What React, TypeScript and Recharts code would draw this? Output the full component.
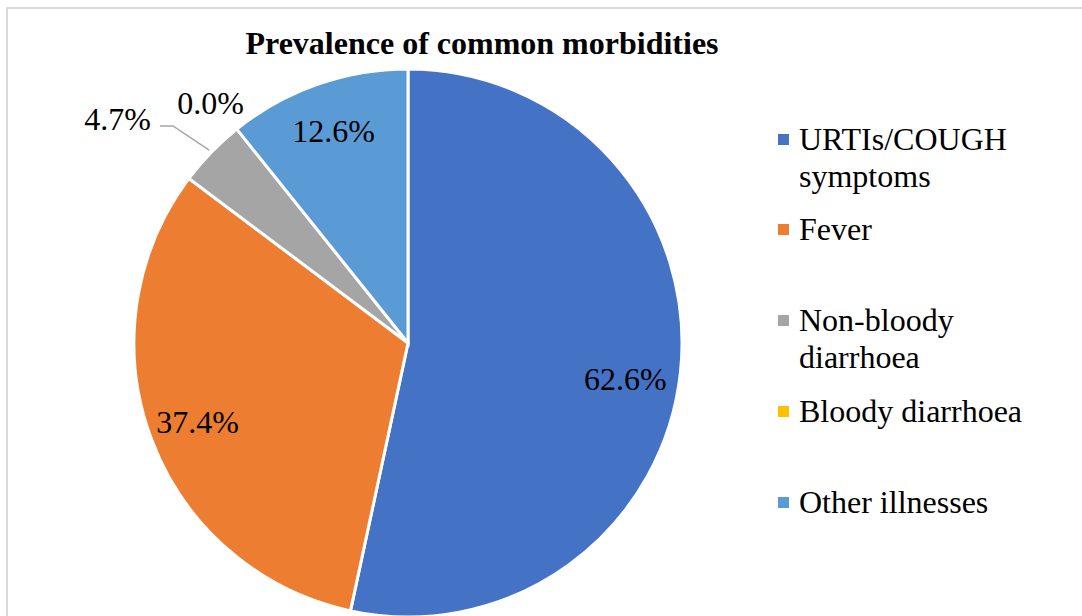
import React from 'react';
import { PieChart, Pie, Cell, Legend } from 'recharts';

const categories = ['URTIs/COUGH symptoms', 'Fever', 'Non-bloody diarrhoea', 'Bloody diarrhoea', 'Other illnesses'];
const values = [62.6, 37.4, 4.7, 0.0, 12.6];
const colors = ['#4472C4', '#ED7D31', '#A5A5A5', '#FFC000', '#5B9BD5'];
const title = 'Prevalence of common morbidities';

const data = categories.map((name, i) => ({ name, value: values[i] }));

const FONT = "'Liberation Serif', serif";
const RAD = Math.PI / 180;
const FS = 32;

const renderLabel = (props: any) => {
  const { cx, cy, midAngle, outerRadius, value, index } = props;
  const a = -midAngle * RAD;
  const cos = Math.cos(a);
  const sin = Math.sin(a);
  const txt = Number(value).toFixed(1) + '%';
  const common = { fontFamily: FONT, fontSize: FS, fill: '#000' };
  if (value === 0) {
    const r = outerRadius + 34;
    return (
      <text key={index} x={cx + r * cos - 5} y={cy + r * sin} textAnchor="middle" dominantBaseline="central" {...common}>
        {txt}
      </text>
    );
  }
  if (value < 10) {
    const dir = cos < 0 ? -1 : 1;
    const x1 = cx + (outerRadius + 3) * cos;
    const y1 = cy + (outerRadius + 3) * sin;
    const x2 = cx + (outerRadius + 45) * cos + dir * 6;
    const y2 = cy + (outerRadius + 45) * sin + 5;
    const x3 = x2 + dir * 13;
    return (
      <g key={index}>
        <path d={`M${x1},${y1}L${x2},${y2}L${x3},${y2}`} stroke="#A6A6A6" strokeWidth={1.5} fill="none" />
        <text x={x3 + dir * 9} y={y2 - 7} textAnchor={dir < 0 ? 'end' : 'start'} dominantBaseline="central" {...common}>
          {txt}
        </text>
      </g>
    );
  }
  const r = outerRadius * 0.82;
  const dy = cos > 0.9 ? 12 : 0;
  return (
    <text key={index} x={cx + r * cos - (cos > 0.9 ? 6 : 0)} y={cy + r * sin + dy} textAnchor="middle" dominantBaseline="central" {...common}>
      {txt}
    </text>
  );
};

const renderLegend = () => (
  <div style={{ fontFamily: FONT, fontSize: FS, lineHeight: '37px', color: '#000' }}>
    {categories.map((name, i) => (
      <div key={name} style={{ height: 90.75, display: 'flex', alignItems: 'flex-start' }}>
        <div style={{ width: 11, height: 11, background: colors[i], marginTop: 13, marginRight: 10, flexShrink: 0 }} />
        <div style={{ width: 240 }}>{name}</div>
      </div>
    ))}
  </div>
);

export default function App() {
  return (
    <div style={{ position: 'absolute', left: 0, top: 0, width: 1082, height: 616, overflow: 'hidden', background: '#fff' }}>
      <div
        style={{
          position: 'absolute',
          left: 6,
          top: 7,
          width: 1200,
          height: 800,
          borderTop: '2px solid #D9D9D9',
          borderLeft: '2px solid #D9D9D9',
        }}
      />
      <div
        style={{
          position: 'absolute',
          left: 0,
          top: 27,
          width: 964,
          textAlign: 'center',
          fontFamily: FONT,
          fontWeight: 'bold',
          fontSize: FS,
          lineHeight: '32px',
          color: '#000',
        }}
      >
        {title}
      </div>
      <div style={{ position: 'absolute', left: 0, top: 0 }}>
        <PieChart width={1082} height={616} margin={{ top: 0, right: 0, bottom: 0, left: 0 }}>
          <Pie
            data={data}
            dataKey="value"
            nameKey="name"
            cx={408}
            cy={343}
            outerRadius={274}
            startAngle={90}
            endAngle={-270}
            stroke="#FFFFFF"
            strokeWidth={3}
            label={renderLabel}
            labelLine={false}
            isAnimationActive={false}
          >
            {data.map((d, i) => (
              <Cell key={d.name} fill={colors[i]} />
            ))}
          </Pie>
          <Legend
            layout="vertical"
            align="right"
            verticalAlign="top"
            content={renderLegend}
            wrapperStyle={{ position: 'absolute', left: 778, top: 120.5, width: 290 }}
          />
        </PieChart>
      </div>
    </div>
  );
}
